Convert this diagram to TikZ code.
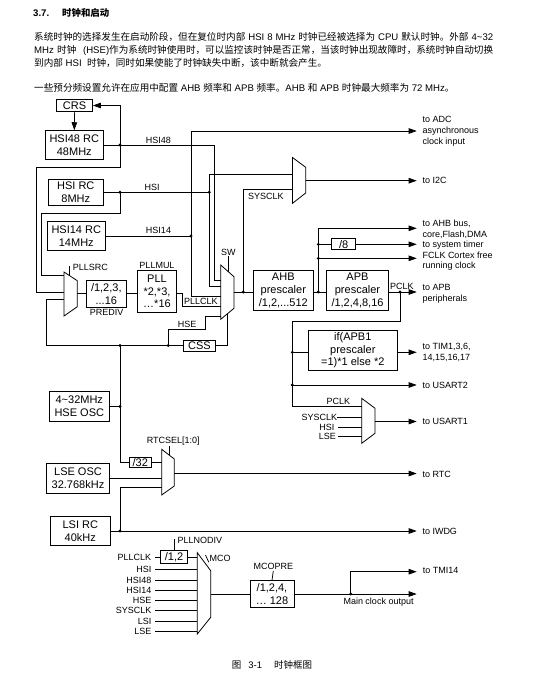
\documentclass[tikz,border=0pt]{standalone}
\usepackage{fontspec}
\setmainfont{Liberation Sans}
\newfontfamily\cjk{Noto Sans CJK SC}
\usetikzlibrary{arrows.meta}
\XeTeXinterchartokenstate=1
\XeTeXinterchartoks 1 1 = {\hskip0pt plus 0.6pt\relax}
\XeTeXinterchartoks 1 3 = {\hskip0pt plus 0.6pt\relax}
\XeTeXinterchartoks 3 1 = {\hskip0pt plus 0.6pt\relax}
\newcommand\zh[1]{{\cjk #1}}
\tikzset{
  box/.style={draw, line width=0.8pt, inner sep=0pt, align=center, font=\fontsize{11}{12.8}\selectfont},
  lb/.style={inner sep=0pt, font=\fontsize{9}{10.8}\selectfont},
  rt/.style={lb, anchor=west, align=left},
  wire/.style={line width=0.75pt},
  arr/.style={wire, -{Triangle[length=8pt,width=5.5pt]}},
  muxs/.style={draw, line width=0.8pt},
  body/.style={anchor=base west, inner sep=0pt, font=\fontsize{9.6}{13}\selectfont},
}
\begin{document}
\begin{tikzpicture}[x=1pt,y=-1pt]
\useasboundingbox (0,0) rectangle (540,683);

% ---------------- header text
\node[anchor=base west, inner sep=0pt, font=\fontsize{9.6}{12}\selectfont\bfseries] (t1) at (33,16) {3.7.};
\node[anchor=base west, inner sep=0pt, font=\fontsize{9.4}{12}\selectfont\bfseries\cjk] (t2) at (62,16) {时钟和启动};
\node[body] (p1) at (34,40.3) {\makebox[459pt][s]{\zh{系统时钟的选择发生在启动阶段，但在复位时内部} HSI 8 MHz \zh{时钟已经被选择为} CPU \zh{默认时钟。外部} 4\textasciitilde32}};
\node[body] (p2) at (34,53.6) {\makebox[459pt][s]{MHz \zh{时钟}\ \ (HSE)\zh{作为系统时钟使用时，可以监控该时钟是否正常，当该时钟出现故障时，系统时钟自动切换}}};
\node[body] (p3) at (34,66.9) {\zh{到内部} HSI\ \ \zh{时钟，同时如果使能了时钟缺失中断，该中断就会产生。}};
\node[body] (p4) at (34,91.9) {\zh{一些预分频设置允许在应用中配置} AHB \zh{频率和} APB \zh{频率。}AHB \zh{和} APB \zh{时钟最大频率为} 72 MHz\zh{。}};

% ---------------- boxes
\node[box, minimum width=36pt, minimum height=12.7pt] (crs) at (74.5,105.5) {CRS};
\node[box, minimum width=58pt, minimum height=28.7pt] (hsi48) at (74.3,145) {HSI48 RC\\48MHz};
\node[box, minimum width=55pt, minimum height=25.7pt] (hsi) at (75.8,192.2) {HSI RC\\8MHz};
\node[box, minimum width=58pt, minimum height=29pt] (hsi14) at (76.3,236) {HSI14 RC\\14MHz};
\node[box, minimum width=39.3pt, minimum height=27.7pt] (prediv) at (106.3,293.8) {/1,2,3,\\...16};
\node[box, minimum width=39.4pt, minimum height=41.3pt] (pll) at (157,291.3) {PLL\\*2,*3,\\…*16};
\node[box, minimum width=32.4pt, minimum height=11pt] (css) at (199.5,345.5) {CSS};
\node[box, minimum width=60pt, minimum height=40.7pt] (ahb) at (283.3,290.3) {AHB\\prescaler\\/1,2,...512};
\node[box, minimum width=61.6pt, minimum height=40pt] (apb) at (357.5,290.7) {APB\\prescaler\\/1,2,4,8,16};
\node[box, minimum width=24pt, minimum height=11pt] (div8) at (343.7,244.3) {/8};
\node[box, minimum width=89pt, minimum height=39.3pt] (tim) at (352.8,350.3) {if(APB1\\prescaler\\=1)*1 else *2};
\node[box, minimum width=60pt, minimum height=29.3pt] (hseosc) at (79.3,406.5) {4\textasciitilde32MHz\\HSE OSC};
\node[box, minimum width=22.7pt, minimum height=10.6pt] (div32) at (140.3,462.5) {/32};
\node[box, minimum width=62.6pt, minimum height=30pt] (lse) at (78,478.2) {LSE OSC\\32.768kHz};
\node[box, minimum width=60.7pt, minimum height=28.3pt] (lsi) at (80.3,531) {LSI RC\\40kHz};
\node[box, minimum width=26.6pt, minimum height=12.6pt] (div12) at (174,557) {/1,2};
\node[box, minimum width=44pt, minimum height=26.6pt] (mcopre) at (272,594) {/1,2,4,\\… 128};

% ---------------- multiplexers
\draw[muxs] (64,272) -- (77.3,280.7) -- (77.3,306.7) -- (64,316) -- cycle;
\draw[muxs] (220.7,265) -- (234,276.7) -- (234,308.3) -- (220.7,319.3) -- cycle;
\draw[muxs] (292.5,157.5) -- (305.7,167.3) -- (305.7,193) -- (292.5,203.3) -- cycle;
\draw[muxs] (361.7,398.3) -- (375,408.3) -- (375,433.3) -- (361.7,443.3) -- cycle;
\draw[muxs] (161.7,449.3) -- (174.3,459) -- (174.3,486) -- (161.7,495) -- cycle;
\draw[muxs] (197.3,552.7) -- (210.7,570.7) -- (210.7,617.3) -- (197.3,634) -- cycle;

% mux ports
\coordinate (srcA) at (64,275);
\coordinate (srcB) at (64,292.7);
\coordinate (srcC) at (64,299.3);
\coordinate (srcO) at (77.3,293.8);
\coordinate (srcT) at (69.5,275.6);
\coordinate (swA) at (220.7,280);
\coordinate (swB) at (220.7,286.7);
\coordinate (swC) at (220.7,296.7);
\coordinate (swD) at (220.7,306.7);
\coordinate (swE) at (220.7,316.5);
\coordinate (swO) at (234,292);
\coordinate (swT) at (228.3,271.5);
\coordinate (swS) at (227.3,313.8);
\coordinate (i2cA) at (292.5,174.3);
\coordinate (i2cB) at (292.5,189.3);
\coordinate (i2cO) at (305.7,180.7);
\coordinate (u1A) at (361.7,406.7);
\coordinate (u1B) at (361.7,417.3);
\coordinate (u1C) at (361.7,427.3);
\coordinate (u1D) at (361.7,436.7);
\coordinate (u1O) at (375,421.5);
\coordinate (rtcA) at (161.7,462.5);
\coordinate (rtcB) at (161.7,478.2);
\coordinate (rtcC) at (161.7,487.3);
\coordinate (rtcO) at (174.3,473.5);
\coordinate (rtcT) at (169,454.9);
\coordinate (mcoL) at (197.3,0);
\coordinate (mcoO) at (210.7,594);

% junction points
\coordinate (d48) at (120,145);
\coordinate (dhsi) at (120,192.2);
\coordinate (dhsi2) at (209.3,192.2);
\coordinate (d14) at (191,236);
\coordinate (dsys) at (243.3,292);
\coordinate (dahb) at (318.3,292);
\coordinate (d8) at (318.3,244.3);
\coordinate (dfclk) at (318.3,258.3);
\coordinate (dpclk) at (400,292);
\coordinate (dtim) at (292.3,352.3);
\coordinate (dus2) at (292.3,385);
\coordinate (dh1) at (120,345.5);
\coordinate (dh2) at (168.3,345.5);
\coordinate (dho) at (120,406.5);
\coordinate (dlsi) at (120,531);
\coordinate (dmco) at (350.7,594);

% arrow tips
\coordinate (aADC) at (416.7,131);
\coordinate (aI2C) at (416.7,180.7);
\coordinate (aAHB) at (416.7,228.3);
\coordinate (aSYS) at (416.7,244.3);
\coordinate (aFCLK) at (416.7,258.3);
\coordinate (aAPB) at (416.7,292);
\coordinate (aTIM) at (416.7,352.3);
\coordinate (aU2) at (416.7,385);
\coordinate (aU1) at (416.7,421.5);
\coordinate (aRTC) at (416.7,473.5);
\coordinate (aIWDG) at (416.7,531);
\coordinate (aTMI) at (416.7,571.7);
\coordinate (aMCO) at (416.7,594);

% ---------------- labels
\node[lb, anchor=south] (lHSI48) at (158.3,143.3) {HSI48};
\node[lb, anchor=south] (lHSI) at (152.2,190.5) {HSI};
\node[lb, anchor=south] (lHSI14) at (158.5,234.2) {HSI14};
\node[lb, anchor=north west] (lSYS) at (248,192.6) {SYSCLK};
\node[lb, anchor=south] (lSW) at (228.3,255.5) {SW};
\node[lb, anchor=west] (lSRC) at (72.7,267.3) {PLLSRC};
\node[lb, anchor=south] (lMUL) at (157,268.3) {PLLMUL};
\node[lb, anchor=north] (lPRE) at (106.7,309.5) {PREDIV};
\node[lb, anchor=south west] (lPLLCLK) at (184,305.2) {PLLCLK};
\node[lb, anchor=south west] (lHSE) at (177.7,327.8) {HSE};
\node[lb, anchor=south west] (lPCLK) at (390,290.2) {PCLK};
\node[lb, anchor=south] (lPCLK2) at (338.3,405.2) {PCLK};
\node[lb, anchor=east] (us) at (337.3,417.3) {SYSCLK};
\node[lb, anchor=east] (uh) at (334.5,427.3) {HSI};
\node[lb, anchor=east] (ul) at (336,436.7) {LSE};
\node[lb] (rtcsel) at (173.3,441) {RTCSEL[1:0]};
\node[lb, anchor=west] (plln) at (177.3,540.7) {PLLNODIV};
\node[lb, anchor=west] (lmco) at (209.5,558.3) {MCO};
\node[lb] (lmcopre) at (273.3,566) {MCOPRE};
\node[lb, anchor=west] (lmain) at (343.3,601.7) {Main clock output};
\node[lb, anchor=east] (mpll) at (151.3,557) {PLLCLK};
\foreach \t/\y [count=\i] in {HSI/569,HSI48/580,HSI14/590.7,HSE/600.7,SYSCLK/610.7,LSI/621,LSE/631}{
  \node[lb, anchor=east] (mi\i) at (151.7,\y) {\t};
  \draw[wire] ([xshift=3.3pt]mi\i.east) -- (mi\i.east -| mcoL);
}

% right-hand texts
\node[rt] (tADC) at (422.3,131) {to ADC\\asynchronous\\clock input};
\node[rt] (tI2C) at (422.3,180.7) {to I2C};
\node[rt] (tAHB) at (422.3,229.7) {to AHB bus,\\core,Flash,DMA};
\node[rt] (tSYS) at (422.3,245) {to system timer};
\node[rt] (tFCLK) at (422.3,261.2) {FCLK Cortex free\\running clock};
\node[rt] (tAPB) at (422.3,293.7) {to APB\\peripherals};
\node[rt] (tTIM) at (422.3,352.3) {to TIM1,3,6,\\14,15,16,17};
\node[rt] (tU2) at (422.3,385) {to USART2};
\node[rt] (tU1) at (422.3,421.7) {to USART1};
\node[rt] (tRTC) at (422.3,474) {to RTC};
\node[rt] (tIWDG) at (422.3,531.7) {to IWDG};
\node[rt] (tTMI) at (422.7,570.7) {to TMI14};

% ---------------- wires
% CRS / HSI48
\draw[arr] (crs.south) -- (hsi48.north);
\draw[wire] (hsi48.east) -- (214.3,145) |- (swA);
\draw[arr] (d48) |- (crs.east);
\draw[wire] (d48) -- (120,167.3) -- (36.7,167.3) |- (srcB);
% HSI
\draw[wire] (hsi.east) -- (209.3,192.2) |- (swB);
\draw[wire] (dhsi2) |- (i2cA);
\draw[wire] (dhsi) -- (120,213.3) -- (41.7,213.3) |- (srcA);
% HSI14
\draw[wire] (hsi14.east) -- (d14);
\draw[wire] (d14) |- (swC);
\draw[arr] (d14) |- (aADC);
% PLL chain
\draw[wire] (lSRC.west -| srcT) ++(0,-1) -- (srcT);
\draw[wire] (srcO) -- (prediv.west);
\draw[wire] (prediv.east) -- (prediv.east -| pll.west);
\draw[wire] (pll.east |- prediv.east) -- (182.3,293.8) |- (swD);
% SW
\draw[wire] (lSW.south) -- (swT);
\draw[wire] (swO) -- (swO -| ahb.west);
\draw[wire] (dsys) |- (i2cB);
\draw[arr] (i2cO) -- (aI2C);
% HSE
\draw[wire] (srcC) -- (46,299.3) |- (css.west);
\draw[wire] (dh2) |- (205,329.3) |- (swE);
\draw[wire] (css.east) -| (swS);
\draw[wire] (hseosc.east) -- (dho);
\draw[wire] (dh1) |- (div32.west);
% RTC / LSE / LSI
\draw[wire] (div32.east) -- (rtcA);
\draw[wire] (lse.east) -- (rtcB);
\draw[arr] (lsi.east) -- (aIWDG);
\draw[wire] (dlsi) |- (rtcC);
\draw[arr] (rtcO) -- (aRTC);
\draw[wire] (rtcT |- rtcsel.south) ++(0,1) -- (rtcT);
% AHB / APB
\draw[wire] (ahb.east |- swO) -- (apb.west |- swO);
\draw[arr] (dahb) |- (aAHB);
\draw[wire] (d8) -- (div8.west);
\draw[arr] (div8.east) -- (aSYS);
\draw[arr] (dfclk) -- (aFCLK);
\draw[arr] (apb.east |- swO) -- (aAPB);
\draw[wire] (dpclk) |- (292.3,321.7) |- (u1A);
\draw[wire] (dtim) -- (dtim -| tim.west);
\draw[arr] (tim.east |- dtim) -- (aTIM);
\draw[arr] (dus2) -- (aU2);
\draw[wire] (us.east) -- (u1B);
\draw[wire] ([xshift=3.5pt]uh.east) -- (u1C);
\draw[wire] ([xshift=2pt]ul.east) -- (u1D);
\draw[arr] (u1O) -- (aU1);
% MCO
\draw[wire] ([xshift=4pt]mpll.east) -- (div12.west);
\draw[wire] (div12.east) -- (div12.east -| mcoL);
\draw[wire] (div12.north) -- ++(0,-11);
\draw[wire] (205.5,555) -- (208.8,562.3);
\draw[wire] (mcoO) -- (mcoO -| mcopre.west);
\draw[wire] (lmcopre.south) ++(0,1.5) -- (mcopre.north);
\draw[arr] (mcopre.east) -- (aMCO);
\draw[arr] (dmco) |- (aTMI);

% dots
\foreach \d in {d48,dhsi,dhsi2,d14,dsys,dahb,d8,dfclk,dpclk,dtim,dus2,dh1,dh2,dho,dlsi,dmco}
  \fill (\d) circle[radius=1.6pt];

% caption
\node[anchor=base, inner sep=0pt, font=\fontsize{9.5}{12}\selectfont] (cap) at (272,668.5) {\zh{图}\hspace{7pt}3-1\hspace{12pt}\zh{时钟框图}};
\end{tikzpicture}
\end{document}
